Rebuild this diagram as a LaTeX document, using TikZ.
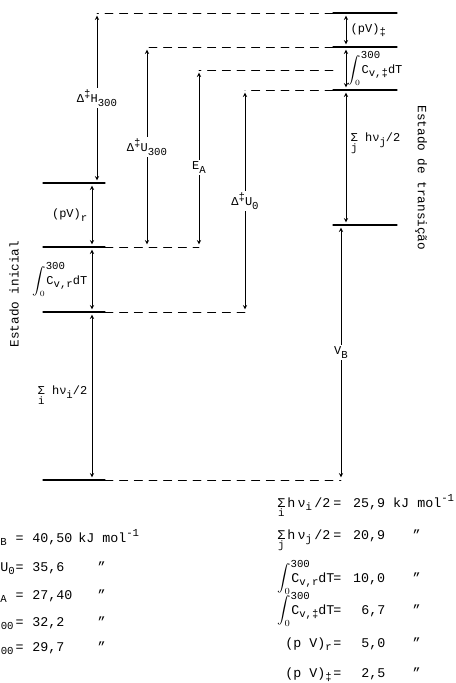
\documentclass[tikz,border=0pt]{standalone}
\usepackage{fontspec}
\setmainfont{Liberation Mono}
\newcommand{\subtx}[1]{\raisebox{-.55ex}{\footnotesize #1}}
\newcommand{\suptx}[1]{\raisebox{.8ex}{\footnotesize #1}}
\newcommand{\intgr}{$\displaystyle\int_0^{\rlap{\footnotesize 300}}$}
\newcommand{\sumof}[1]{$\mathop{\hbox{Σ}}\limits_{\hbox{\footnotesize #1}}$}
\newcommand{\ditto}{\hspace*{14.5pt}"}
\newcommand{\rrow}[3]{\makebox[40pt][l]{#1}\makebox[10pt]{=}\makebox[31pt][r]{#2}\hspace{6pt}#3}
\newcommand{\lrow}[3]{\makebox[11pt][l]{#1}\makebox[7pt]{=}\hspace{6pt}\makebox[34.5pt][l]{#2}#3}
\begin{document}
\begin{tikzpicture}[x=0.75pt, y=-0.75pt, font=\fontsize{9}{10}\selectfont, line cap=round, line join=round, >=stealth,
  level/.style={line width=0.8pt},
  gap/.style={line width=0.7pt, dash pattern=on 6pt off 5pt},
  span/.style={<->, line width=0.45pt, shorten <=2pt, shorten >=2pt},
  tag/.style={fill=white, inner sep=1.5pt},
  listrow/.style={anchor=base west, inner sep=0pt, font=\fontsize{10}{12}\selectfont}]
\useasboundingbox (0,0) rectangle (455,683);
\clip (0,0) rectangle (455,683);
% niveis
\path (333,13)coordinate(T1) (333,47)coordinate(T2) (333,70)coordinate(T3) (333,90)coordinate(T4) (333,225)coordinate(T5);
\path (105,183)coordinate(I1) (105,247)coordinate(I2) (105,312)coordinate(I3) (105,480)coordinate(I4);
\path (97,0)coordinate(xH) (147,0)coordinate(xU) (199,0)coordinate(xE) (245,0)coordinate(xZ) (346,0)coordinate(xT) (341,0)coordinate(xV) (92,0)coordinate(xI);
\draw[level] (T1)--+(64,0) (T2)--+(64,0) (T4)--+(64,0) (T5)--+(64,0);
\draw[level] (I1)--+(-62,0) (I2)--+(-62,0) (I3)--+(-62,0) (I4)--+(-62,0);
\draw[gap] (T1)--(xH|-T1) (T2)--(xU|-T2) (T3)--(xE|-T3) (T4)--(xZ|-T4);
\draw[gap] (I2)--(xE|-I2) (I3)--(xZ|-I3) (I4)--(xV|-I4);
% setas
\draw[span] (xH|-T1)--node[tag](dH){Δ\suptx{‡}H\subtx{300}}(xH|-I1);
\draw[span] (xU|-T2)--node[tag](dU){Δ\suptx{‡}U\subtx{300}}(xU|-I2);
\draw[span] (xE|-T3)--node[tag,pos=.55](EA){E\subtx{A}}(xE|-I2);
\draw[span] (xZ|-T4)--node[tag](dU0){Δ\suptx{‡}U\subtx{0}}(xZ|-I3);
\draw[span] (xV|-T5)--node[tag](VB){V\subtx{B}}(xV|-I4);
\draw[span] (xT|-T1)--node[right](pVt){(pV)\subtx{‡}}(xT|-T2);
\draw[span] (xT|-T2)--node[right,inner sep=1pt](cvt){\intgr C\subtx{v,‡}dT}(xT|-T4);
\draw[span] (xT|-T4)--node[right,pos=.4](zpt){\sumof{j} hν\subtx{j}/2}(xT|-T5);
\draw[span] (xI|-I1)--node[left](pVr){(pV)\subtx{r}}(xI|-I2);
\draw[span] (xI|-I2)--node[left](cvr){\intgr C\subtx{v,r}dT}(xI|-I3);
\draw[span] (xI|-I3)--node[left](zpi){\sumof{i} hν\subtx{i}/2}(xI|-I4);
\node[rotate=90,font=\fontsize{9.5}{11}\selectfont] (ini) at (14,294) {Estado inicial};
\node[rotate=-90,font=\fontsize{9.5}{11}\selectfont] (trs) at (421,178) {Estado de transição};
% valores
\node[listrow] (l1) at (0,542) {\lrow{\subtx{B}}{40,50}{kJ mol\suptx{-1}}};
\node[listrow] (l2) at (0,571) {\lrow{U\subtx{0}}{35,6}{\ditto}};
\node[listrow] (l3) at (0,599) {\lrow{\subtx{A}}{27,40}{\ditto}};
\node[listrow] (l4) at (0,626) {\lrow{\hspace*{10pt}\llap{\subtx{300}}}{32,2}{\ditto}};
\node[listrow] (l5) at (0,651) {\lrow{\hspace*{10pt}\llap{\subtx{300}}}{29,7}{\ditto}};
\node[listrow] (r1) at (277,507) {\rrow{\sumof{i}\,h\,ν\subtx{i}\,/2}{25,9}{kJ mol\suptx{-1}}};
\node[listrow] (r2) at (277,539) {\rrow{\sumof{j}\,h\,ν\subtx{j}\,/2}{20,9}{\ditto}};
\node[listrow] (r3) at (277,582) {\rrow{\intgr C\subtx{v,r}dT}{10,0}{\ditto}};
\node[listrow] (r4) at (277,614) {\rrow{\intgr C\subtx{v,‡}dT}{6,7}{\ditto}};
\node[listrow] (r5) at (277,647) {\rrow{\hspace*{6pt}(p V)\subtx{r}}{5,0}{\ditto}};
\node[listrow] (r6) at (277,677) {\rrow{\hspace*{6pt}(p V)\subtx{‡}}{2,5}{\ditto}};
\end{tikzpicture}
\end{document}
